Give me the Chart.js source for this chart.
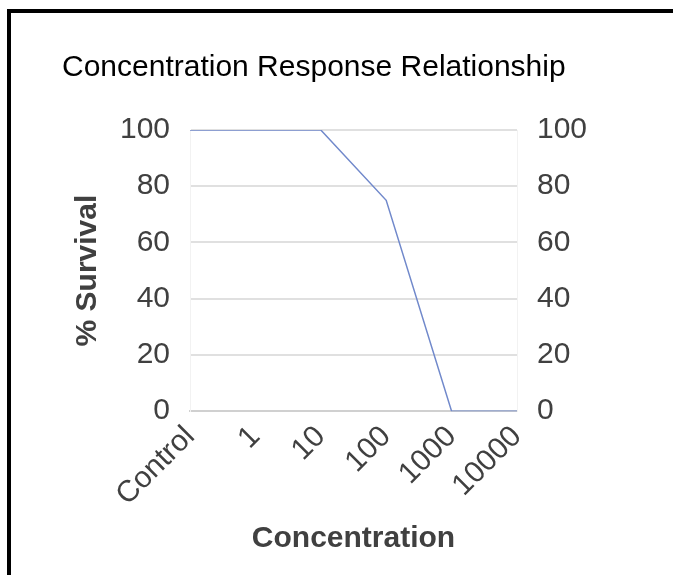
<!DOCTYPE html>
<html>
<head>
<meta charset="utf-8">
<script src="https://cdn.jsdelivr.net/npm/chart.js@4/dist/chart.umd.min.js"></script>
<style>
  html, body { margin: 0; padding: 0; background: #fff; overflow: hidden; }
  #wrap { position: relative; width: 673px; height: 575px; overflow: hidden; }
  #frame { position: absolute; left: 7px; top: 9px; width: 720px; height: 640px; border: 4px solid #000; box-sizing: border-box; }
  #grafico1 { position: absolute; left: 0; top: 0; }
</style>
</head>
<body>
<div id="wrap">
  <div id="frame"></div>
  <canvas id="grafico1" width="673" height="575"></canvas>
</div>
<script>
// dados do grafico
var concentracoes = ["Control", "1", "10", "100", "1000", "10000"];
var sobrevivencia = [100, 100, 100, 75, 0, 0];
var yMin = 0, yMax = 100, yPasso = 20;

var fonte = "'Liberation Sans', Arial, Helvetica, sans-serif";
var corTexto = "#404040";

var graf = document.getElementById("grafico1");
var lineChart = new Chart(graf, {
    type: 'line',
    data: {
        labels: concentracoes,
        datasets: [{
            label: "% Survival",
            data: sobrevivencia,
            borderColor: "#7189cb",
            borderWidth: 1.5,
            pointRadius: 0,
            fill: false,
            tension: 0
        }]
    },
    options: {
        responsive: false,
        animation: false,
        layout: { padding: { left: 62, right: 66, top: 22, bottom: 14 } },
        plugins: {
            legend: { display: false },
            tooltip: { enabled: false },
            title: {
                display: true,
                text: "Concentration Response Relationship",
                align: 'start',
                color: "#000",
                font: { family: fonte, size: 30, weight: 'normal' },
                padding: { top: 28, bottom: 44 }
            }
        },
        scales: {
            x: {
                offset: false,
                grid: { display: false, drawTicks: false },
                border: { display: true, color: "#d0d0d0", width: 2 },
                ticks: {
                    autoSkip: false,
                    maxRotation: 45,
                    minRotation: 45,
                    padding: 8,
                    color: corTexto,
                    font: { family: fonte, size: 30 }
                },
                title: {
                    display: true,
                    text: "Concentration",
                    color: corTexto,
                    font: { family: fonte, size: 30, weight: 'bold' },
                    padding: { top: 0, bottom: 4 }
                }
            },
            y: {
                position: 'left',
                min: yMin,
                max: yMax,
                afterFit: function (eixo) { eixo.width = 128; },
                grid: { color: "#e0e0e0", lineWidth: 2, drawTicks: false },
                border: { display: true, color: "#f2f2f2", width: 1 },
                ticks: {
                    stepSize: yPasso,
                    padding: 20,
                    color: corTexto,
                    font: { family: fonte, size: 30 }
                },
                title: {
                    display: true,
                    text: "% Survival",
                    color: corTexto,
                    font: { family: fonte, size: 30, weight: 'bold' },
                    padding: { top: 8, bottom: 11 }
                }
            },
            y2: {
                position: 'right',
                min: yMin,
                max: yMax,
                afterFit: function (eixo) { eixo.width = 90; },
                grid: { display: false, drawTicks: false },
                border: { display: true, color: "#f2f2f2", width: 1 },
                ticks: {
                    stepSize: yPasso,
                    padding: 20,
                    color: corTexto,
                    font: { family: fonte, size: 30 }
                }
            }
        }
    }
});
</script>
</body>
</html>
